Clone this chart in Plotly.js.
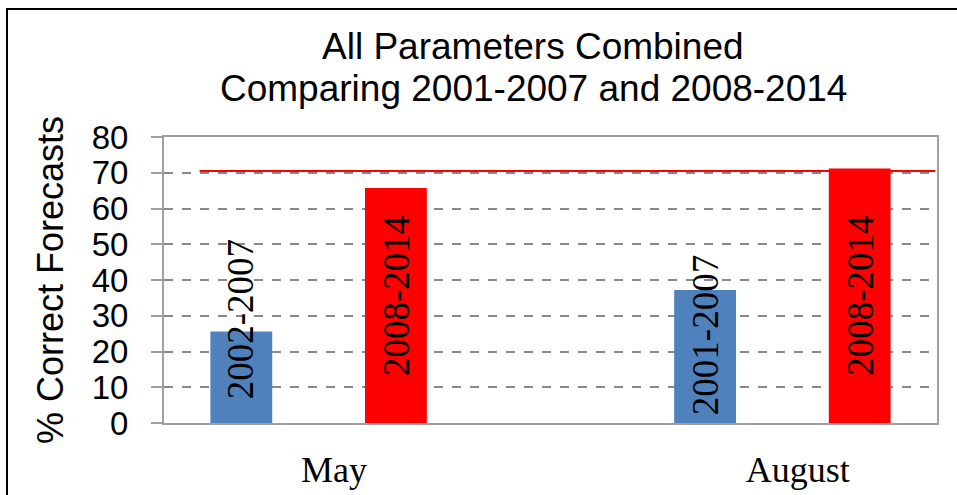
<!DOCTYPE html>
<html>
<head>
<meta charset="utf-8">
<script src="https://cdn.plot.ly/plotly-3.0.1.min.js"></script>
<style>html,body{margin:0;padding:0;background:#fff;}#chart{width:957px;height:495px;}</style>
</head>
<body>
<div id="chart"></div>
<script>
// Data
var titleLines = ["All Parameters Combined", "Comparing 2001-2007 and 2008-2014"];
var months = ["May", "August"];
var monthTickPos = [0.6, 3.6];
var earlyPos = [0, 3];
var latePos = [1, 4];
var earlyValues = [25.6, 37.2];
var lateValues = [65.7, 71.2];
var earlyLabels = ["2002-2007", "2001-2007"];
var lateLabels = ["2008-2014", "2008-2014"];
var earlyLabelY = [29.1, 24.6];
var lateLabelY = [35.5, 35.5];
var targetX = [-0.27, 4.49];
var targetY = [70.5, 70.5];
var yTicks = [0, 10, 20, 30, 40, 50, 60, 70, 80];

var SERIF = "Liberation Serif, Times New Roman, serif";
var SANS = "Liberation Sans";

var traces = [
  {type: "bar", x: earlyPos, y: earlyValues, width: 0.4, marker: {color: "#4F81BD"}, hoverinfo: "none"},
  {type: "bar", x: latePos, y: lateValues, width: 0.4, marker: {color: "#FF0000"}, hoverinfo: "none"},
  {type: "scatter", mode: "lines", x: targetX, y: targetY, line: {color: "#FF0000", width: 2}, hoverinfo: "none"}
];

var annotations = [];
function addLabels(xs, ys, texts) {
  for (var i = 0; i < xs.length; i++) {
    annotations.push({
      x: xs[i], y: ys[i], xref: "x", yref: "y",
      text: "<span style=\"font-family:'Liberation Serif'\">" + texts[i] + "</span>",
      showarrow: false,
      textangle: -90, xanchor: "center", yanchor: "middle",
      font: {family: SERIF, size: 37, color: "#000000"}
    });
  }
}
addLabels(earlyPos, earlyLabelY, earlyLabels);
addLabels(latePos, lateLabelY, lateLabels);
// title lines placed in paper units relative to the plot area (top at 137px, bottom at 423px)
var titleY = [(423 - 46) / 286, (423 - 89) / 286];
for (var t = 0; t < titleLines.length; t++) {
  annotations.push({
    x: (533 - 164) / 773, y: titleY[t], xref: "paper", yref: "paper", text: titleLines[t], showarrow: false,
    xanchor: "center", yanchor: "middle",
    font: {family: SANS, size: 37, color: "#000000"}
  });
}

var layout = {
  width: 957, height: 495,
  margin: {l: 164, r: 20, t: 137, b: 72},
  paper_bgcolor: "#fff", plot_bgcolor: "#fff",
  showlegend: false,
  font: {family: SANS, color: "#000000"},
  xaxis: {
    range: [-0.5, 4.5], tickvals: monthTickPos, ticktext: months,
    ticks: "", showgrid: false, zeroline: false,
    showline: true, mirror: true, linecolor: "#A0A0A0", linewidth: 2,
    tickfont: {family: SERIF, size: 36, color: "#000"},
    ticklabelstandoff: 14
  },
  yaxis: {
    range: [0, 80], tickvals: yTicks,
    ticks: "outside", ticklen: 11, tickwidth: 2, tickcolor: "#A0A0A0",
    showgrid: true, gridcolor: "#888888", gridwidth: 2, griddash: "dash",
    zeroline: false,
    showline: true, mirror: true, linecolor: "#A0A0A0", linewidth: 2,
    tickfont: {family: SANS, size: 33, color: "#000"},
    ticklabelstandoff: 16,
    title: {text: "% Correct Forecasts", font: {family: SANS, size: 36, color: "#000"}, standoff: 17}
  },
  annotations: annotations,
  shapes: [{
    type: "rect", xref: "paper", yref: "paper",
    x0: -157 / 773, x1: 820 / 773, y0: -100 / 286, y1: 414 / 286,
    line: {color: "#000", width: 2}, fillcolor: "rgba(0,0,0,0)", layer: "above"
  }]
};

Plotly.newPlot("chart", traces, layout, {displayModeBar: false, staticPlot: true});
</script>
</body>
</html>
